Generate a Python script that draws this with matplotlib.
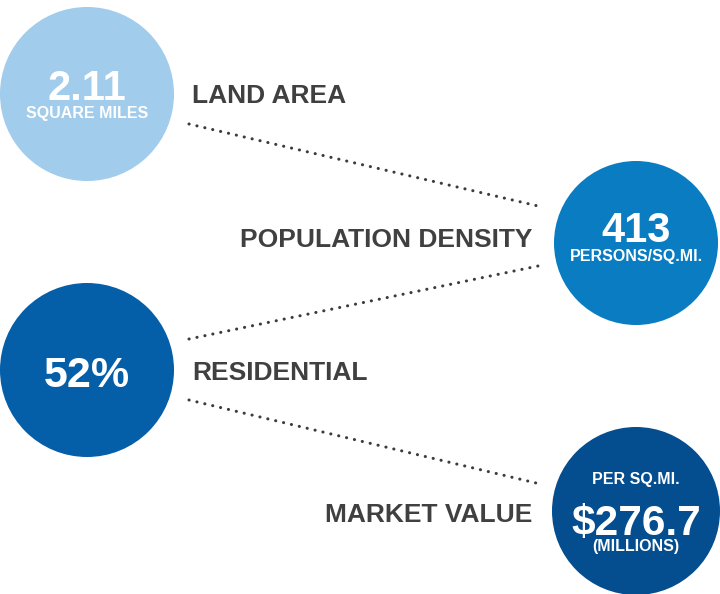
import matplotlib
matplotlib.use('Agg')
import matplotlib.pyplot as plt
from matplotlib.patches import Circle

# ─── Data ─────────────────────────────────────────────────────────
labels = ['LAND AREA', 'POPULATION DENSITY', 'RESIDENTIAL', 'MARKET VALUE']
values = ['2.11', '413', '52%', '$276.7']
units_above = ['', '', '', 'PER SQ.MI.']
units_below = ['SQUARE MILES', 'PERSONS/SQ.MI.', '', '(MILLIONS)']

# ─── Layout (pixel coordinates, y downward) ───────────────────────
circle_xy = [(87, 94), (636, 243), (87, 370), (636, 511)]
circle_r = [87, 82, 87, 84]
circle_colors = ['#A1CCEC', '#0A7CC1', '#045EA8', '#044D8F']
value_base = [100, 242, 387, 535]
value_size = [30, 30, 31, 30.5]
above_base = [None, None, None, 484]
below_base = [118, 261, None, 551]

label_pos = [(192, 103, 'left'), (532, 247, 'right'),
             (192, 380, 'left'), (532, 522, 'right')]

dotted = [((189, 124), (538, 206)),
          ((189, 339), (538, 266)),
          ((189, 400), (536, 483))]

plt.rcParams['font.family'] = ['Liberation Sans', 'DejaVu Sans']

fig = plt.figure(figsize=(7.2, 5.94), dpi=100)
ax = fig.add_axes([0, 0, 1, 1])
ax.set_xlim(0, 720)
ax.set_ylim(594, 0)
ax.set_aspect('equal')
ax.axis('off')

for (x0, y0), (x1, y1) in dotted:
    ax.plot([x0, x1], [y0, y1], color='#3c3c3c', lw=2.2,
            linestyle=(0, (0.05, 2.6)), dash_capstyle='round')

for i, (xy, r, c) in enumerate(zip(circle_xy, circle_r, circle_colors)):
    ax.add_patch(Circle(xy, r, color=c, lw=0))
    cx = xy[0]
    ax.text(cx, value_base[i], values[i], ha='center', va='baseline',
            fontsize=value_size[i], fontweight='bold', color='white')
    if units_above[i]:
        ax.text(cx, above_base[i], units_above[i], ha='center', va='baseline',
                fontsize=11.5, fontweight='bold', color='white')
    if units_below[i]:
        ax.text(cx, below_base[i], units_below[i], ha='center', va='baseline',
                fontsize=11.5, fontweight='bold', color='white')

for lab, (x, y, ha) in zip(labels, label_pos):
    ax.text(x, y, lab, ha=ha, va='baseline', fontsize=19,
            fontweight='bold', color='#404040')

fig.savefig('out.png', dpi=100)
